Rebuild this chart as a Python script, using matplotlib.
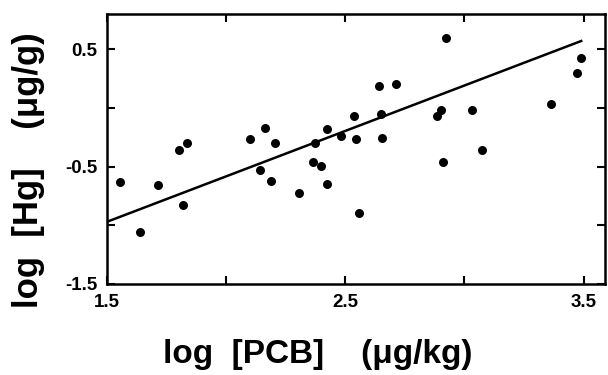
import matplotlib
matplotlib.use("Agg")
import matplotlib.pyplot as plt
import numpy as np

# Data (log PCB vs log Hg)
log_pcb = [1.554, 1.639, 1.716, 1.801, 1.835, 1.821, 2.099, 2.165, 2.205, 2.141,
           2.188, 2.306, 2.373, 2.366, 2.397, 2.423, 2.423, 2.482, 2.538, 2.546,
           2.558, 2.641, 2.648, 2.656, 2.711, 2.884, 2.901, 2.921, 2.909, 3.032,
           3.073, 3.362, 3.473, 3.489]
log_hg = [-0.629, -1.054, -0.659, -0.362, -0.296, -0.830, -0.262, -0.175, -0.300, -0.532,
          -0.624, -0.726, -0.301, -0.457, -0.491, -0.178, -0.644, -0.237, -0.065, -0.269,
          -0.894, 0.190, -0.051, -0.253, 0.203, -0.066, -0.015, 0.598, -0.458, -0.018,
          -0.362, 0.034, 0.296, 0.422]
fit_x = [1.5, 3.49]
fit_y = [-0.97, 0.57]

xticks = [1.5, 2.0, 2.5, 3.0, 3.5]
xticklabels = ["1.5", "", "2.5", "", "3.5"]
yticks = [-1.5, -1.0, -0.5, 0.0, 0.5]
yticklabels = ["-1.5", "", "-0.5", "", "0.5"]

W, H = 608, 375
fig = plt.figure(figsize=(W / 100, H / 100), dpi=100)
ax = fig.add_axes([107 / W, 1 - 284 / H, (605 - 107) / W, (284 - 14) / H])

ax.scatter(log_pcb, log_hg, s=42, color="black", zorder=3, linewidths=0)
ax.plot(fit_x, fit_y, color="black", lw=1.8, zorder=2)

ax.set_xlim(1.5, 3.59)
ax.set_ylim(-1.5, 0.8)
ax.set_xticks(xticks)
ax.set_xticklabels(xticklabels)
ax.set_yticks(yticks)
ax.set_yticklabels(yticklabels)
ax.tick_params(direction="in", length=6, width=1.5, top=True, right=True,
               labelsize=13.5, pad=7)
for lab in ax.get_xticklabels() + ax.get_yticklabels():
    lab.set_fontweight("bold")
    lab.set_family(["Liberation Sans", "DejaVu Sans"])
for sp in ax.spines.values():
    sp.set_linewidth(1.8)

lab_font = ["Liberation Sans", "DejaVu Sans"]
fig.text(318 / W, 1 - 354 / H, "log  [PCB]    (\u03bcg/kg)", ha="center", va="center",
         fontsize=24, fontweight="bold", family=lab_font)
fig.text(29 / W, 1 - 170 / H, "log  [Hg]    (\u03bcg/g)", ha="center", va="center",
         rotation=90, fontsize=25, fontweight="bold", family=lab_font)

fig.savefig("out.png", dpi=100)
